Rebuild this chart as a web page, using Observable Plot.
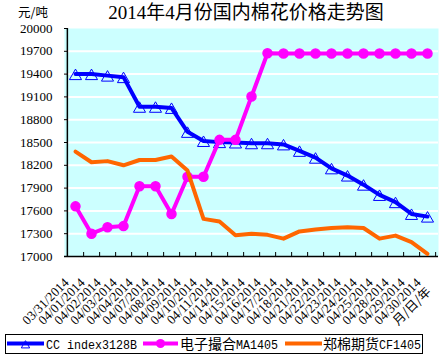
<!DOCTYPE html>
<html>
<head>
<meta charset="utf-8">
<script src="https://cdn.jsdelivr.net/npm/d3@7"></script>
<script src="https://cdn.jsdelivr.net/npm/@observablehq/plot@0.6"></script>
<style>
  html, body { margin: 0; padding: 0; background: #fff; }
  #wrap { position: relative; width: 443px; height: 359px; overflow: hidden; }
  #wrap > svg { position: absolute; left: 0; top: 0; }
</style>
</head>
<body>
<div id="wrap"></div>
<script>
const dates = ["03/31/2014","04/01/2014","04/02/2014","04/03/2014","04/04/2014","04/07/2014","04/08/2014","04/09/2014","04/10/2014","04/11/2014","04/14/2014","04/15/2014","04/16/2014","04/17/2014","04/18/2014","04/21/2014","04/22/2014","04/23/2014","04/24/2014","04/25/2014","04/28/2014","04/29/2014","04/30/2014"];
const ccIndex = [19400,19400,19380,19360,18970,18970,18955,18640,18520,18505,18500,18490,18490,18475,18390,18300,18160,18065,17945,17810,17715,17560,17525];
const ma1405 = [17660,17300,17385,17400,17925,17925,17560,18050,18050,18535,18535,19105,19675,19670,19670,19670,19670,19670,19670,19670,19670,19670,19670];
const cf1405 = [18380,18240,18255,18200,18270,18270,18315,18130,17495,17460,17280,17300,17285,17235,17330,17355,17375,17385,17375,17235,17275,17190,17035];
const yTicks = [17000,17300,17600,17900,18200,18500,18800,19100,19400,19700,20000];
const seriesNames = ["CC index3128B", "电子撮合MA1405", "郑棉期货CF1405"];
const title = "2014年4月份国内棉花价格走势图";
const unitLabel = "元/吨";
const xAxisTitle = "月/日/年";

const W = 443, H = 359;
const mL = 64, mR = 5, mT = 28, mB = 103;
const frameW = W - mL - mR, frameH = H - mT - mB;
const step = frameW / dates.length;

const toRows = vals => dates.map((d, i) => ({date: d, v: vals[i]}));
const ccRows = toRows(ccIndex), maRows = toRows(ma1405), cfRows = toRows(cf1405);

const BLUE = "#0000FF", MAG = "#FF00FF", ORG = "#FF6600", BG = "#CCFFFF";

const chart = Plot.plot({
  width: W, height: H,
  marginLeft: mL, marginRight: mR, marginTop: mT, marginBottom: mB,
  style: {fontFamily: "'Liberation Serif', serif", fontSize: "13px", background: "transparent", overflow: "visible", color: "black"},
  x: {type: "point", domain: dates, padding: 0.5, axis: null},
  y: {domain: [17000, 20000], axis: null},
  marks: [
    Plot.frame({fill: BG, stroke: null}),
    Plot.ruleY(yTicks.filter(t => t > 17000 && t < 20000), {stroke: "white", strokeWidth: 2}),
    Plot.tickY(yTicks, {y: d => d, stroke: "black", insetRight: frameW - 4}),
    Plot.tickX(dates, {x: d => d, dx: step / 2, stroke: "black", insetTop: frameH - 4}),
    Plot.ruleY([17000], {stroke: "black", strokeWidth: 1.5}),
    Plot.ruleX([dates[0]], {dx: -step / 2, stroke: "black", strokeWidth: 1.5}),
    Plot.text(yTicks, {y: d => d, text: d => String(d), frameAnchor: "left", dx: -12, textAnchor: "end", fontSize: 13, fill: "black"}),
    Plot.text(dates, {x: d => d, text: d => d, frameAnchor: "bottom", dx: -6, dy: 27, rotate: -45, textAnchor: "end", fontSize: 13, fill: "black"}),
    Plot.text([xAxisTitle], {text: d => d, frameAnchor: "bottom-right", dx: -7, dy: 36, rotate: -45, textAnchor: "end", fontSize: 12.5, fontFamily: "'Noto Sans CJK SC', sans-serif", fill: "black"}),
    Plot.lineY(ccRows, {x: "date", y: "v", stroke: BLUE, strokeWidth: 4}),
    Plot.dot(ccRows, {x: "date", y: "v", symbol: "triangle", r: 4.5, stroke: BLUE, strokeWidth: 1, fill: "none", dy: 2}),
    Plot.lineY(maRows, {x: "date", y: "v", stroke: MAG, strokeWidth: 4}),
    Plot.dot(maRows, {x: "date", y: "v", r: 4.5, fill: MAG, stroke: MAG}),
    Plot.lineY(cfRows, {x: "date", y: "v", stroke: ORG, strokeWidth: 4})
  ]
});

const wrap = document.getElementById("wrap");
wrap.appendChild(chart);

// overlay: title, unit, legend
const ov = d3.select(wrap).append("svg").attr("width", W).attr("height", H);

ov.append("text").attr("x", 246).attr("y", 19).attr("text-anchor", "middle")
  .attr("font-family", "'Liberation Serif', 'Noto Sans CJK SC', serif").attr("font-size", 19)
  .text(title);
ov.append("text").attr("x", 18).attr("y", 17)
  .attr("font-family", "'Noto Sans CJK SC', sans-serif").attr("font-size", 12.5)
  .text(unitLabel);

// legend
const lg = ov.append("g");
lg.append("rect").attr("x", 5.5).attr("y", 334.5).attr("width", 417).attr("height", 19)
  .attr("fill", "white").attr("stroke", "black").attr("stroke-width", 1);
const ly = 343.5;
const items = [
  {name: seriesNames[0], color: BLUE, x1: 7, x2: 44, tx: 46, marker: "tri"},
  {name: seriesNames[1], color: MAG, x1: 143, x2: 178, tx: 180, marker: "dot"},
  {name: seriesNames[2], color: ORG, x1: 285, x2: 322, tx: 323, marker: null}
];
for (const it of items) {
  lg.append("line").attr("x1", it.x1).attr("x2", it.x2).attr("y1", ly).attr("y2", ly)
    .attr("stroke", it.color).attr("stroke-width", 4);
  const cx = (it.x1 + it.x2) / 2;
  if (it.marker === "dot") {
    lg.append("circle").attr("cx", cx).attr("cy", ly).attr("r", 4.5).attr("fill", it.color);
  } else if (it.marker === "tri") {
    lg.append("path").attr("d", d3.symbol(d3.symbolTriangle2, 50)()).attr("transform", `translate(${cx},${ly + 2})`)
      .attr("fill", "none").attr("stroke", it.color).attr("stroke-width", 1);
  }
  const t = lg.append("text").attr("x", it.tx).attr("y", ly + 5);
  const runs = it.name.match(/[\u4e00-\u9fff]+|[^\u4e00-\u9fff]+/g);
  for (const r of runs) {
    const cjk = /[\u4e00-\u9fff]/.test(r);
    const sp = t.append("tspan")
      .attr("font-family", cjk ? "'Noto Sans CJK SC', sans-serif" : "'Liberation Mono', monospace")
      .attr("font-size", cjk ? 14 : 13)
      .text(r);
    if (!cjk) sp.attr("textLength", r.length * 7).attr("lengthAdjust", "spacingAndGlyphs");
  }
}
</script>
</body>
</html>
